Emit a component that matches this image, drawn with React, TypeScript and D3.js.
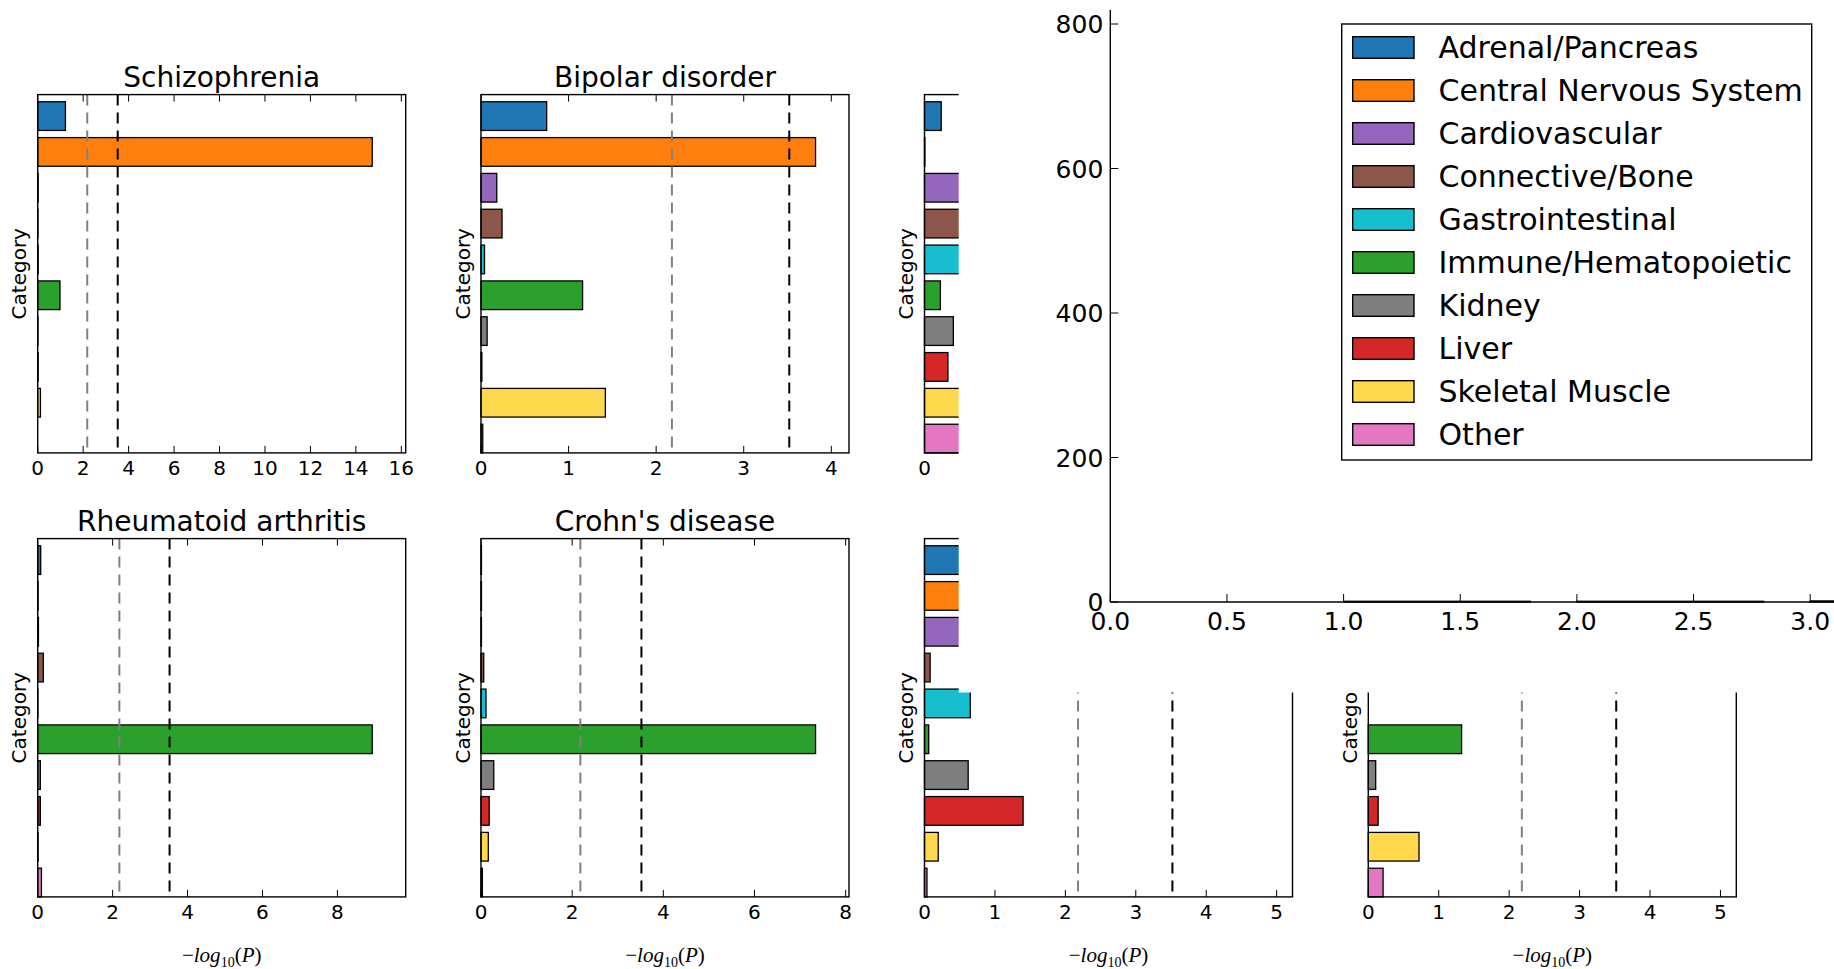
import React from 'react';
import * as d3 from 'd3';

const categories = [
  'Adrenal/Pancreas', 'Central Nervous System', 'Cardiovascular', 'Connective/Bone',
  'Gastrointestinal', 'Immune/Hematopoietic', 'Kidney', 'Liver', 'Skeletal Muscle', 'Other',
];
const colors = [
  '#1f77b4', '#ff7f0e', '#9467bd', '#8c564b', '#17becf',
  '#2ca02c', '#7f7f7f', '#d62728', '#ffd94d', '#e377c2',
];

// -log10(P) for each category, same order as above
const schizophrenia = [1.22, 14.72, 0.02, 0.01, 0.02, 0.98, 0.01, 0.02, 0.12, 0];
const bipolar = [0.75, 3.82, 0.18, 0.24, 0.04, 1.16, 0.07, 0.01, 1.42, 0.02];
const topThird = [0.2, 0.005, 1.3, 0.9, 4.0, 0.19, 0.345, 0.28, 2.2, 1.6];
const rheumatoid = [0.08, 0.01, 0.02, 0.15, 0.005, 8.93, 0.07, 0.07, 0.01, 0.1];
const crohns = [0.01, 0.01, 0.01, 0.06, 0.11, 7.34, 0.28, 0.18, 0.16, 0.03];
const bottomThird = [1.9, 4.75, 1.2, 0.08, 0.65, 0.06, 0.62, 1.4, 0.195, 0.035];
const bottomFourth = [0.4, 4.75, 0.3, 0.1, 0, 1.325, 0.105, 0.14, 0.72, 0.21];

// significance lines
const thresholds = [2.18, 3.52];
const thresholdColors = ['#808080', '#000000'];

// the stray axes that holds the legend
const legendAxisYTicks = [0, 200, 400, 600, 800];
const legendAxisXTicks = [0, 0.5, 1, 1.5, 2, 2.5, 3];
const legendBarX = [1, 2, 3];
const legendBarH = [1, 1, 1.5];

const panels = [
  { title: 'Schizophrenia', values: schizophrenia, col: 0, row: 0, ticks: 8 },
  { title: 'Bipolar disorder', values: bipolar, col: 1, row: 0, ticks: 5 },
  { title: '', values: topThird, col: 2, row: 0, ticks: 5 },
  { title: 'Rheumatoid arthritis', values: rheumatoid, col: 0, row: 1, ticks: 5 },
  { title: "Crohn's disease", values: crohns, col: 1, row: 1, ticks: 5 },
  { title: '', values: bottomThird, col: 2, row: 1, ticks: 5 },
  { title: '', values: bottomFourth, col: 3, row: 1, ticks: 5 },
];

const W = 1834, H = 969;
const PW = 368, PH = 358.3;
const lefts = [37.7, 481, 924.5, 1368.3];
const tops = [94.6, 538.6];
// white block that sits over the right-hand panels
const cover = { x: 958.7, y: 0, w: W - 958.7, h: 692.5 };
const font = 'DejaVu Sans, sans-serif';

const hidden = (px, py) => px > cover.x + 6 && py < cover.h;

function Panel({ p }) {
  const left = lefts[p.col], top = tops[p.row];
  const bottom = top + PH, right = left + PW;
  const xmax = 1.1 * (d3.max(p.values) as number);
  const x = d3.scaleLinear().domain([0, xmax]).range([left, right]);
  const y = d3.scaleLinear().domain([0, 10]).range([bottom, top]);
  const ticks = x.ticks(p.ticks);
  return (
    <g>
      {p.values.map((v, k) => {
        const y0 = 9 - k;
        return (
          <rect key={k} x={x(0)} y={y(y0 + 0.8)} width={x(v) - x(0)} height={y(y0) - y(y0 + 0.8)}
            fill={colors[k]} stroke="#000" strokeWidth={1.3} />
        );
      })}
      {thresholds.map((t, i) => (
        <line key={i} x1={x(t)} x2={x(t)} y1={top} y2={bottom} stroke={thresholdColors[i]}
          strokeWidth={2} strokeDasharray="11,7" />
      ))}
      {ticks.map(t => (
        <g key={t}>
          <line x1={x(t)} x2={x(t)} y1={bottom} y2={bottom - 7} stroke="#000" strokeWidth={1} />
          <line x1={x(t)} x2={x(t)} y1={top} y2={top + 7} stroke="#000" strokeWidth={1} />
          {!hidden(x(t), bottom + 15) && (
            <text x={x(t)} y={bottom + 22} textAnchor="middle" fontSize={20} fontFamily={font}>{d3.format('d')(t)}</text>
          )}
        </g>
      ))}
      <rect x={left} y={top} width={PW} height={PH} fill="none" stroke="#000" strokeWidth={1.4} />
      {p.title && (
        <text x={(left + right) / 2} y={top - 8} textAnchor="middle" fontSize={28} fontFamily={font}>{p.title}</text>
      )}
      <text transform={`translate(${left - 11.4},${(top + bottom) / 2}) rotate(-90)`} textAnchor="middle"
        fontSize={20} fontFamily={font}>Category</text>
      {p.row === 1 && (
        <text x={(left + right) / 2} y={962} textAnchor="middle" fontSize={21}
          fontFamily="Liberation Serif, DejaVu Serif, serif">
          <tspan>−</tspan><tspan fontStyle="italic">log</tspan>
          <tspan fontSize={14} dy={5}>10</tspan>
          <tspan dy={-5}>(</tspan><tspan fontStyle="italic">P</tspan><tspan>)</tspan>
        </text>
      )}
    </g>
  );
}

function LegendAxes() {
  const x0 = 1110.3, yBottom = 602, yTop = 10;
  const x = d3.scaleLinear().domain([0, 1]).range([x0, x0 + 233.3]);
  const y = d3.scaleLinear().domain([0, 800]).range([yBottom, 24]);
  return (
    <g>
      {legendBarX.map((b, i) => (
        <rect key={i} x={x(b)} y={y(legendBarH[i])} width={x(b + 0.8) - x(b)} height={y(0) - y(legendBarH[i])}
          fill={colors[i + 1]} stroke="#000" strokeWidth={1.3} />
      ))}
      <line x1={x0} x2={x0} y1={yTop} y2={yBottom} stroke="#000" strokeWidth={1.4} />
      <line x1={x0} x2={W} y1={yBottom} y2={yBottom} stroke="#000" strokeWidth={1.4} />
      {legendAxisYTicks.map(t => (
        <g key={t}>
          <line x1={x0} x2={x0 + 8} y1={y(t)} y2={y(t)} stroke="#000" strokeWidth={1} />
          <text x={x0 - 7} y={y(t)} dy="0.36em" textAnchor="end" fontSize={25} fontFamily={font}>{t}</text>
        </g>
      ))}
      {legendAxisXTicks.map(t => (
        <g key={t}>
          <line x1={x(t)} x2={x(t)} y1={yBottom} y2={yBottom - 8} stroke="#000" strokeWidth={1} />
          <text x={x(t)} y={629.5} textAnchor="middle" fontSize={25} fontFamily={font}>{d3.format('.1f')(t)}</text>
        </g>
      ))}
      <rect x={1341.7} y={24} width={470} height={436} fill="#fff" stroke="#000" strokeWidth={1.4} />
      {categories.map((c, i) => {
        const cy = 47.5 + i * 43;
        return (
          <g key={c}>
            <rect x={1352.7} y={cy - 10.8} width={61.3} height={21.6} fill={colors[i]} stroke="#000" strokeWidth={1.4} />
            <text x={1438.5} y={cy + 10.5} fontSize={30} fontFamily={font}>{c}</text>
          </g>
        );
      })}
    </g>
  );
}

export default function App() {
  return (
    <div style={{ position: 'absolute', left: 0, top: 0, background: '#fff' }}>
      <svg width={W} height={H} viewBox={`0 0 ${W} ${H}`} style={{ display: 'block' }}>
        <rect width={W} height={H} fill="#fff" />
        {panels.map((p, i) => <Panel key={i} p={p} />)}
        <rect x={cover.x} y={cover.y} width={cover.w} height={cover.h} fill="#fff" />
        <LegendAxes />
      </svg>
    </div>
  );
}
